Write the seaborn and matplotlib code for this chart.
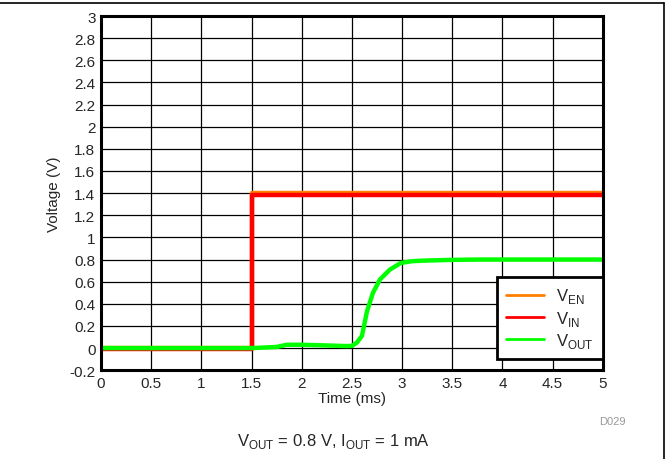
import pandas as pd
import matplotlib.pyplot as plt
import seaborn as sns
from matplotlib.lines import Line2D

sns.set_style("white")
plt.rcParams["font.family"] = ["Liberation Sans", "DejaVu Sans"]
plt.rcParams["mathtext.fontset"] = "custom"
plt.rcParams["mathtext.rm"] = "Liberation Sans"

# Trace data read from the scope capture
en_time = [0, 1.5, 1.5, 5.0]
en_volt = [0.0, 0.0, 1.4, 1.4]
in_time = [0, 1.5, 1.5, 5.0]
in_volt = [-0.005, -0.005, 1.385, 1.385]
out_time = [0, 1.5, 1.75, 1.85, 2.0, 2.2, 2.45, 2.5, 2.55, 2.6, 2.65, 2.71,
            2.78, 2.88, 2.99, 3.1, 3.21, 3.5, 3.78, 5.0]
out_volt = [0.0, 0.0, 0.01, 0.03, 0.03, 0.025, 0.018, 0.02, 0.05, 0.11, 0.33, 0.5,
            0.62, 0.71, 0.77, 0.785, 0.79, 0.797, 0.8, 0.8]

labels = [r"V$_{\mathregular{EN}}$", r"V$_{\mathregular{IN}}$", r"V$_{\mathregular{OUT}}$"]
colors = ["#ff7f00", "#ff0000", "#00ff00"]

df = pd.concat([
    pd.DataFrame({"Time": en_time, "Voltage": en_volt, "Signal": labels[0]}),
    pd.DataFrame({"Time": in_time, "Voltage": in_volt, "Signal": labels[1]}),
    pd.DataFrame({"Time": out_time, "Voltage": out_volt, "Signal": labels[2]}),
], ignore_index=True)

fig = plt.figure(figsize=(6.69, 4.60), dpi=100)
ax = fig.add_axes([0.151, 0.193, 0.750, 0.770])

sns.lineplot(data=df, x="Time", y="Voltage", hue="Signal", palette=dict(zip(labels, colors)),
             estimator=None, sort=False, linewidth=3.2, ax=ax)

ax.set_xlim(0, 5)
ax.set_ylim(-0.2, 3)
ax.set_xticks([i * 0.5 for i in range(11)])
ax.set_xticklabels(["0", "0.5", "1", "1.5", "2", "2.5", "3", "3.5", "4", "4.5", "5"])
yt = [round(-0.2 + 0.2 * i, 1) for i in range(17)]
ax.set_yticks(yt)
ax.set_yticklabels([("%g" % v) if v != 0 else "0" for v in yt])
ax.tick_params(axis="both", labelsize=11, length=0, pad=4)
ax.grid(True, color="black", linewidth=0.9)
for s in ax.spines.values():
    s.set_linewidth(2.2)
    s.set_color("black")
ax.set_xlabel("Time (ms)", fontsize=11, labelpad=1)
ax.set_ylabel("Voltage (V)", fontsize=11, labelpad=6)

leg = ax.legend(loc="lower right", bbox_to_anchor=(1.0, 0.031), fontsize=12, frameon=True,
                fancybox=False, edgecolor="black", framealpha=1, borderaxespad=0.0,
                handlelength=2.3, handletextpad=0.7, labelspacing=0.2, borderpad=0.55)
leg.get_frame().set_linewidth(2.0)
for h in leg.get_lines():
    h.set_linewidth(2)

fig.text(0.498, 0.04, r"V$_{\mathregular{OUT}}$ = 0.8 V, I$_{\mathregular{OUT}}$ = 1 mA",
         ha="center", va="center", fontsize=12)
fig.text(0.915, 0.082, "D029", ha="center", va="center", fontsize=8, color="#999999")

fig.add_artist(Line2D([0, 0.992], [0.992, 0.992], color="black", linewidth=1.2))
fig.add_artist(Line2D([0.992, 0.992], [0.0, 0.992], color="black", linewidth=1.2))

fig.savefig("out.png", dpi=100)
